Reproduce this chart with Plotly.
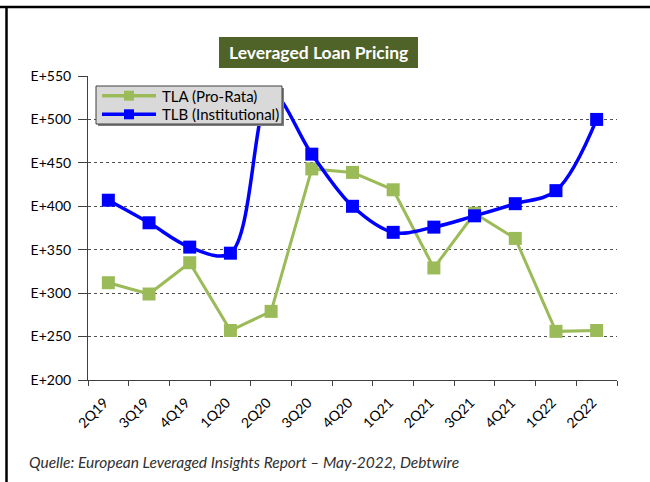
import plotly.graph_objects as go

quarters = ["2Q19", "3Q19", "4Q19", "1Q20", "2Q20", "3Q20", "4Q20",
            "1Q21", "2Q21", "3Q21", "4Q21", "1Q22", "2Q22"]
tla_values = [312, 299, 335, 257, 279, 443, 439, 419, 329, 392, 363, 256, 257]
tlb_values = [407, 381, 353, 346, 530, 460, 400, 370, 376, 389, 403, 418, 500]
y_tick_values = [200, 250, 300, 350, 400, 450, 500, 550]
y_tick_labels = ["E+200", "E+250", "E+300", "E+350", "E+400", "E+450", "E+500", "E+550"]
series_names = ["TLA (Pro-Rata)", "TLB (Institutional)"]
series_colors = ["#9bbb59", "#0000ff"]

FONT = "Lato, 'Liberation Sans', sans-serif"

fig = go.Figure()
fig.add_trace(go.Scatter(
    x=quarters, y=tla_values, name=series_names[0], mode="lines+markers",
    line=dict(color=series_colors[0], width=3),
    marker=dict(symbol="square", size=13, color=series_colors[0]),
    showlegend=False,
))
fig.add_trace(go.Scatter(
    x=quarters, y=tlb_values, name=series_names[1], mode="lines+markers",
    line=dict(color=series_colors[1], width=3.5, shape="spline", smoothing=1.0),
    marker=dict(symbol="square", size=13, color=series_colors[1]),
    showlegend=False,
))

W, H = 650, 482
L, R, T, B = 88, 33, 76, 102
pw, ph = W - L - R, H - T - B

def px(x):
    return (x - L) / pw

def py(y):
    return (H - B - y) / ph

shapes = [
    # page frame: top and left rules
    dict(type="line", xref="paper", yref="paper", x0=px(0), x1=px(650), y0=py(7), y1=py(7),
         line=dict(color="black", width=2.5), layer="above"),
    dict(type="line", xref="paper", yref="paper", x0=px(6.5), x1=px(6.5), y0=py(7), y1=py(482),
         line=dict(color="black", width=2.5), layer="above"),
    # title box
    dict(type="rect", xref="paper", yref="paper", x0=px(219), x1=px(418), y0=py(68), y1=py(37),
         fillcolor="#4f6228", line=dict(width=0), layer="above"),
    # legend box (shadow + box)
    dict(type="rect", xref="paper", yref="paper", x0=px(98), x1=px(284), y0=py(126), y1=py(88),
         fillcolor="#7f7f7f", line=dict(width=0), layer="above"),
    dict(type="rect", xref="paper", yref="paper", x0=px(96), x1=px(282), y0=py(124), y1=py(86),
         fillcolor="#d9d9d9", line=dict(color="#404040", width=1), layer="above"),
]

annotations = [
    dict(text="<b>Leveraged Loan Pricing</b>", xref="paper", yref="paper",
         x=px(318.5), y=py(52.5), xanchor="center", yanchor="middle", showarrow=False,
         font=dict(family=FONT, size=17.5, color="white")),
    dict(text="<i>Quelle: European Leveraged Insights Report – May-2022, Debtwire</i>",
         xref="paper", yref="paper", x=px(27), y=py(462), xanchor="left", yanchor="middle",
         showarrow=False, font=dict(family=FONT, size=15.5, color="#303030")),
]

# manual legend entries
legend_rows = [95.7, 114.3]
for name, color, row in zip(series_names, series_colors, legend_rows):
    shapes.append(dict(type="line", xref="paper", yref="paper",
                       x0=px(102), x1=px(156), y0=py(row), y1=py(row),
                       line=dict(color=color, width=3.5), layer="above"))
    shapes.append(dict(type="rect", xref="paper", yref="paper",
                       x0=px(124), x1=px(134), y0=py(row + 5), y1=py(row - 5),
                       fillcolor=color, line=dict(width=0), layer="above"))
    annotations.append(dict(text=name, xref="paper", yref="paper",
                            x=px(160), y=py(row), xanchor="left", yanchor="middle",
                            showarrow=False,
                            font=dict(family=FONT, size=15, color="black")))

fig.update_layout(
    width=W, height=H,
    margin=dict(l=L, r=R, t=T, b=B),
    paper_bgcolor="white", plot_bgcolor="white",
    font=dict(family=FONT, size=13, color="black"),
    showlegend=False,
    shapes=shapes,
    annotations=annotations,
)
fig.update_xaxes(
    type="category", categoryorder="array", categoryarray=quarters,
    range=[-0.5, len(quarters) - 0.5],
    showgrid=False, showline=True, linecolor="#404040", linewidth=1,
    ticks="outside", ticklen=5, tickcolor="#404040", tickson="boundaries",
    tickangle=-45, ticklabelstandoff=8, ticklabelshift=-4,
    tickfont=dict(family=FONT, size=14, color="black"),
)
fig.update_yaxes(
    range=[200, 550], tickvals=y_tick_values, ticktext=y_tick_labels,
    showgrid=True, gridcolor="#505050", griddash="dot", gridwidth=1,
    showline=True, linecolor="#404040", linewidth=1,
    ticks="outside", ticklen=9, tickcolor="#404040", zeroline=False,
    ticklabelstandoff=4,
    tickfont=dict(family=FONT, size=14, color="black"),
)

fig.write_html("out.html", config={"displayModeBar": False},
               post_script="document.body.style.margin='0';")
